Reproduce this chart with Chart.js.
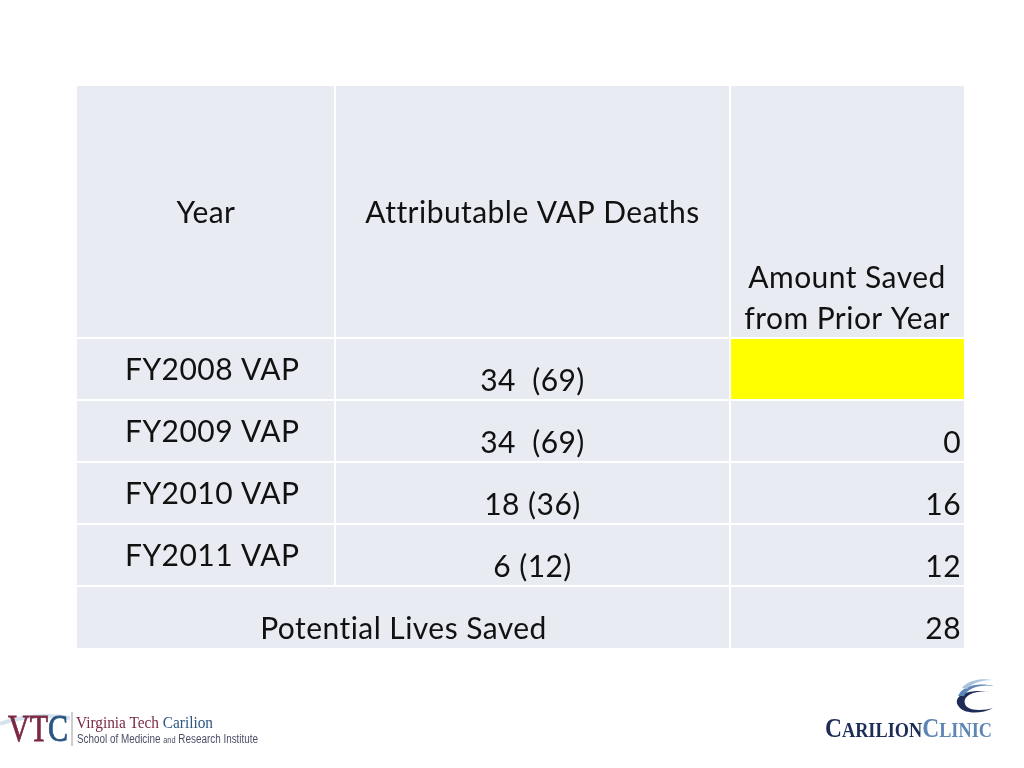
<!DOCTYPE html>
<html>
<head>
<meta charset="utf-8">
<script src="https://cdn.jsdelivr.net/npm/chart.js@4"></script>
<style>
  body { margin: 0; background: #fff; }
  #wrap { position: relative; width: 1024px; height: 768px; }
  svg { position: absolute; }
</style>
</head>
<body>
<div id="wrap">
  <canvas id="vapTable"></canvas>

  <!-- logo izquierdo -->
  <svg style="left:0;top:680px" width="300" height="80">
    <path d="M0,44 C20,36 50,34 70,38" stroke="#d6e3ee" stroke-width="4" fill="none"/>
    <text x="8" y="61" font-family="Liberation Serif" font-size="38" textLength="60" lengthAdjust="spacingAndGlyphs" stroke-width="0.8"><tspan fill="#7b2942" stroke="#7b2942">VT</tspan><tspan fill="#2c5580" stroke="#2c5580">C</tspan></text>
    <line x1="72" y1="32" x2="72" y2="66" stroke="#9a9aa4" stroke-width="1"/>
    <text x="76" y="48" font-family="Liberation Serif" font-size="17" textLength="137" lengthAdjust="spacingAndGlyphs"><tspan fill="#7b2942">Virginia Tech</tspan><tspan fill="#2c5580"> Carilion</tspan></text>
    <text x="77" y="63" font-family="Liberation Sans Narrow, Liberation Sans" font-size="12" fill="#4a4f66" textLength="181" lengthAdjust="spacingAndGlyphs">School of Medicine <tspan font-size="9">and</tspan> Research Institute</text>
  </svg>

  <!-- logo derecho -->
  <svg style="left:800px;top:670px" width="224" height="90">
    <path d="M160,38 C150,28 165,18 190,22 C175,20 160,26 166,36 C172,42 186,40 193,38 C182,44 166,44 160,38 Z" fill="#1d2d57"/>
    <path d="M158,26 C162,16 178,12 194,16 C180,14 168,18 164,26 Z" fill="#5d86b5"/>
    <path d="M162,18 C168,10 182,8 192,10 C182,10 172,13 167,19 Z" fill="#a9c3de"/>
    <text x="25" y="67" font-family="Liberation Serif" font-weight="bold" textLength="167" lengthAdjust="spacingAndGlyphs"><tspan fill="#1d2d57" font-size="27">C</tspan><tspan fill="#1d2d57" font-size="21">ARILION</tspan><tspan fill="#5d86b5" font-size="27">C</tspan><tspan fill="#5d86b5" font-size="21">LINIC</tspan></text>
  </svg>
</div>

<script>
// Datos de la tabla
const columnHeaders = ['Year', 'Attributable VAP Deaths', ['Amount Saved', 'from Prior Year']];
const years = ['FY2008 VAP', 'FY2009 VAP', 'FY2010 VAP', 'FY2011 VAP'];
const deaths = ['34  (69)', '34  (69)', '18 (36)', '6 (12)'];
const amountSaved = [null, 0, 16, 12];
const totalLabel = 'Potential Lives Saved';
const totalSaved = 28;

// Geometría de la tabla (unidades de escala)
const colEdges = [0, 258, 653, 887];
const rowEdges = [0, 252, 314, 376, 438, 500, 562];

const cellColor = '#e9ebf2';
const highlightColor = '#ffff00';
const textColor = '#111111';
const fontSize = 30;
const fontFamily = 'Lato, "Open Sans", sans-serif';

// Plugin que dibuja las celdas y textos usando las escalas
const tablePlugin = {
    id: 'tablePlugin',
    beforeDatasetsDraw(chart) {
        const ctx = chart.ctx;
        const xs = chart.scales.x;
        const ys = chart.scales.y;
        const px = v => xs.getPixelForValue(v);
        const py = v => ys.getPixelForValue(v);

        ctx.save();
        // fondo
        ctx.fillStyle = cellColor;
        ctx.fillRect(px(colEdges[0]), py(rowEdges[0]), px(colEdges[3]) - px(colEdges[0]), py(rowEdges[6]) - py(rowEdges[0]));

        // celda amarilla (FY2008, sin valor)
        amountSaved.forEach((v, i) => {
            if (v === null) {
                ctx.fillStyle = highlightColor;
                ctx.fillRect(px(colEdges[2]), py(rowEdges[i + 1]), px(colEdges[3]) - px(colEdges[2]), py(rowEdges[i + 2]) - py(rowEdges[i + 1]));
            }
        });

        // líneas blancas
        ctx.strokeStyle = '#ffffff';
        ctx.lineWidth = 2;
        ctx.beginPath();
        for (let r = 1; r < rowEdges.length - 1; r++) {
            ctx.moveTo(px(colEdges[0]), py(rowEdges[r]));
            ctx.lineTo(px(colEdges[3]), py(rowEdges[r]));
        }
        ctx.moveTo(px(colEdges[1]), py(rowEdges[0]));
        ctx.lineTo(px(colEdges[1]), py(rowEdges[5]));
        ctx.moveTo(px(colEdges[2]), py(rowEdges[0]));
        ctx.lineTo(px(colEdges[2]), py(rowEdges[6]));
        ctx.stroke();

        // textos
        ctx.fillStyle = textColor;
        ctx.font = fontSize + 'px ' + fontFamily;
        ctx.letterSpacing = '0.45px'; // también evita las ligaduras "ti"
        ctx.textBaseline = 'middle';

        const midX = c => (px(colEdges[c]) + px(colEdges[c + 1])) / 2;
        const midY = r => (py(rowEdges[r]) + py(rowEdges[r + 1])) / 2;
        const botY = r => py(rowEdges[r + 1]) - 19;
        const rightX = px(colEdges[3]) - 3;

        // encabezados
        ctx.textAlign = 'center';
        ctx.fillText(columnHeaders[0], midX(0), midY(0) + 1);
        ctx.fillText(columnHeaders[1], midX(1), midY(0) + 1);
        const lines = columnHeaders[2];
        lines.forEach((l, i) => {
            ctx.fillText(l, midX(2), botY(0) - (lines.length - 1 - i) * 41);
        });

        // filas
        years.forEach((y, i) => {
            const r = i + 1;
            ctx.textAlign = 'left';
            ctx.fillText(y, px(colEdges[0]) + 48, midY(r) + 1);
            ctx.textAlign = 'center';
            ctx.fillText(deaths[i], midX(1), botY(r));
            if (amountSaved[i] !== null) {
                ctx.textAlign = 'right';
                ctx.fillText(String(amountSaved[i]), rightX, botY(r));
            }
        });

        // total
        ctx.textAlign = 'center';
        ctx.fillText(totalLabel, (px(colEdges[0]) + px(colEdges[2])) / 2, botY(5));
        ctx.textAlign = 'right';
        ctx.fillText(String(totalSaved), rightX, botY(5));
        ctx.restore();
    }
};

const ctx = document.getElementById('vapTable').getContext('2d');
new Chart(ctx, {
    type: 'scatter',
    data: { datasets: [{ data: [], pointRadius: 0 }] },
    options: {
        responsive: true,
        maintainAspectRatio: false,
        animation: false,
        layout: { padding: { left: 77, top: 86, right: 60, bottom: 120 } },
        scales: {
            x: { type: 'linear', min: colEdges[0], max: colEdges[3], display: false },
            y: { type: 'linear', min: rowEdges[0], max: rowEdges[6], reverse: true, display: false }
        },
        plugins: { legend: { display: false }, tooltip: { enabled: false } }
    },
    plugins: [tablePlugin]
});
</script>
</body>
</html>
